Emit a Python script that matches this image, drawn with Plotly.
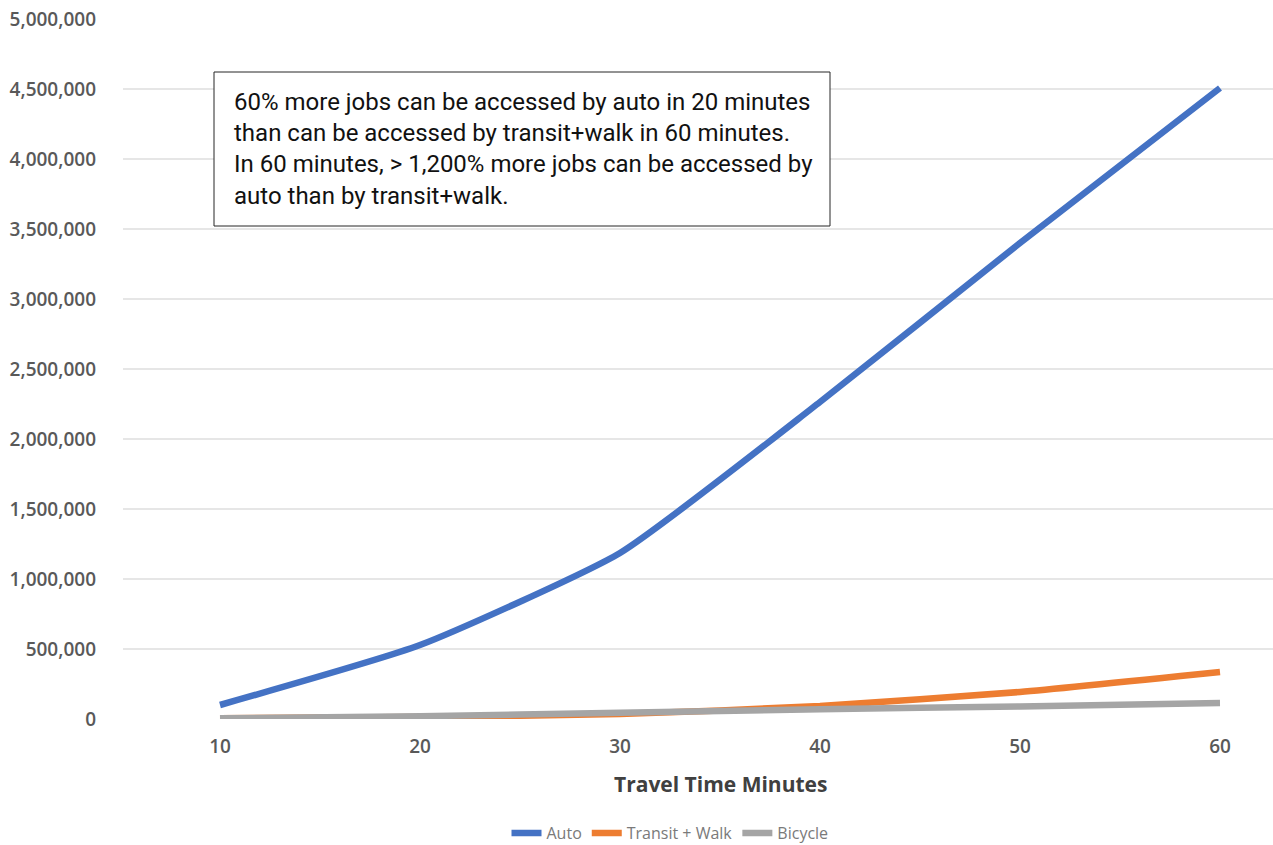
import plotly.graph_objects as go

# Travel time budgets (minutes) and jobs reachable within each budget
travel_minutes = [10, 20, 30, 40, 50, 60]
auto_jobs = [100000, 528000, 1186000, 2264000, 3400000, 4507000]
transit_walk_jobs = [5000, 15000, 35000, 93000, 193000, 336000]
bicycle_jobs = [5000, 20000, 45000, 70000, 90000, 114000]

y_ticks = list(range(0, 5000001, 500000))

series = [
    ("Auto", auto_jobs, "#4472C4"),
    ("Transit + Walk", transit_walk_jobs, "#ED7D31"),
    ("Bicycle", bicycle_jobs, "#A5A5A5"),
]

callout = ("60% more jobs can be accessed by auto in 20 minutes<br>"
           "than can be accessed by transit+walk in 60 minutes.<br>"
           "In 60 minutes, > 1,200% more jobs can be accessed by<br>"
           "auto than by transit+walk.")

fig = go.Figure()
for name, values, color in series:
    fig.add_trace(go.Scatter(
        x=travel_minutes, y=values, name=name, mode="lines",
        line=dict(color=color, width=6.5, shape="spline", smoothing=0.5),
    ))

W, H = 1273, 845
left, right, top, bottom = 123, 0, 19, 126
plot_w, plot_h = W - left - right, H - top - bottom


def px_x(px):
    return (px - left) / plot_w


def px_y(py):
    return (H - bottom - py) / plot_h


fig.update_layout(
    width=W, height=H,
    margin=dict(l=left, r=right, t=top, b=bottom, autoexpand=False),
    paper_bgcolor="white", plot_bgcolor="white",
    font=dict(family="Open Sans", color="#595959"),
    showlegend=True,
    legend=dict(
        orientation="h", x=px_x(670), xanchor="center",
        yref="container", y=(H - 833) / H, yanchor="middle",
        font=dict(size=16, color="#7a7a7a"),
        itemwidth=30, tracegroupgap=0,
    ),
    xaxis=dict(
        range=[5.15, 62.65], tickvals=travel_minutes,
        showgrid=False, zeroline=False, showline=False, ticks="",
        tickfont=dict(size=19, color="#595959", weight=600),
        ticklabelstandoff=14,
    ),
    yaxis=dict(
        range=[0, 5000000], tickvals=y_ticks, tickformat=",",
        showgrid=True, gridcolor="#E6E6E6", gridwidth=1.5,
        zeroline=False, showline=False, ticks="",
        tickfont=dict(size=19, color="#595959", weight=600),
        ticklabelstandoff=26,
    ),
    shapes=[
        dict(
            type="rect", xref="paper", yref="paper", layer="above",
            x0=px_x(214), x1=px_x(830), y0=px_y(226), y1=px_y(72),
            line=dict(color="#262626", width=1), fillcolor="white",
        ),
    ],
    annotations=[
        dict(
            text="<b>Travel Time Minutes</b>", x=35, xref="x",
            y=px_y(784), yref="paper", showarrow=False,
            xanchor="center", yanchor="middle",
            font=dict(size=21, color="#404040"),
        ),
        dict(
            text=callout, x=px_x(232), xref="paper",
            y=px_y(149), yref="paper",
            xanchor="left", yanchor="middle", showarrow=False,
            align="left",
            font=dict(family="Roboto", size=24, color="#111111"),
        ),
    ],
)

fig.write_html("out.html")
